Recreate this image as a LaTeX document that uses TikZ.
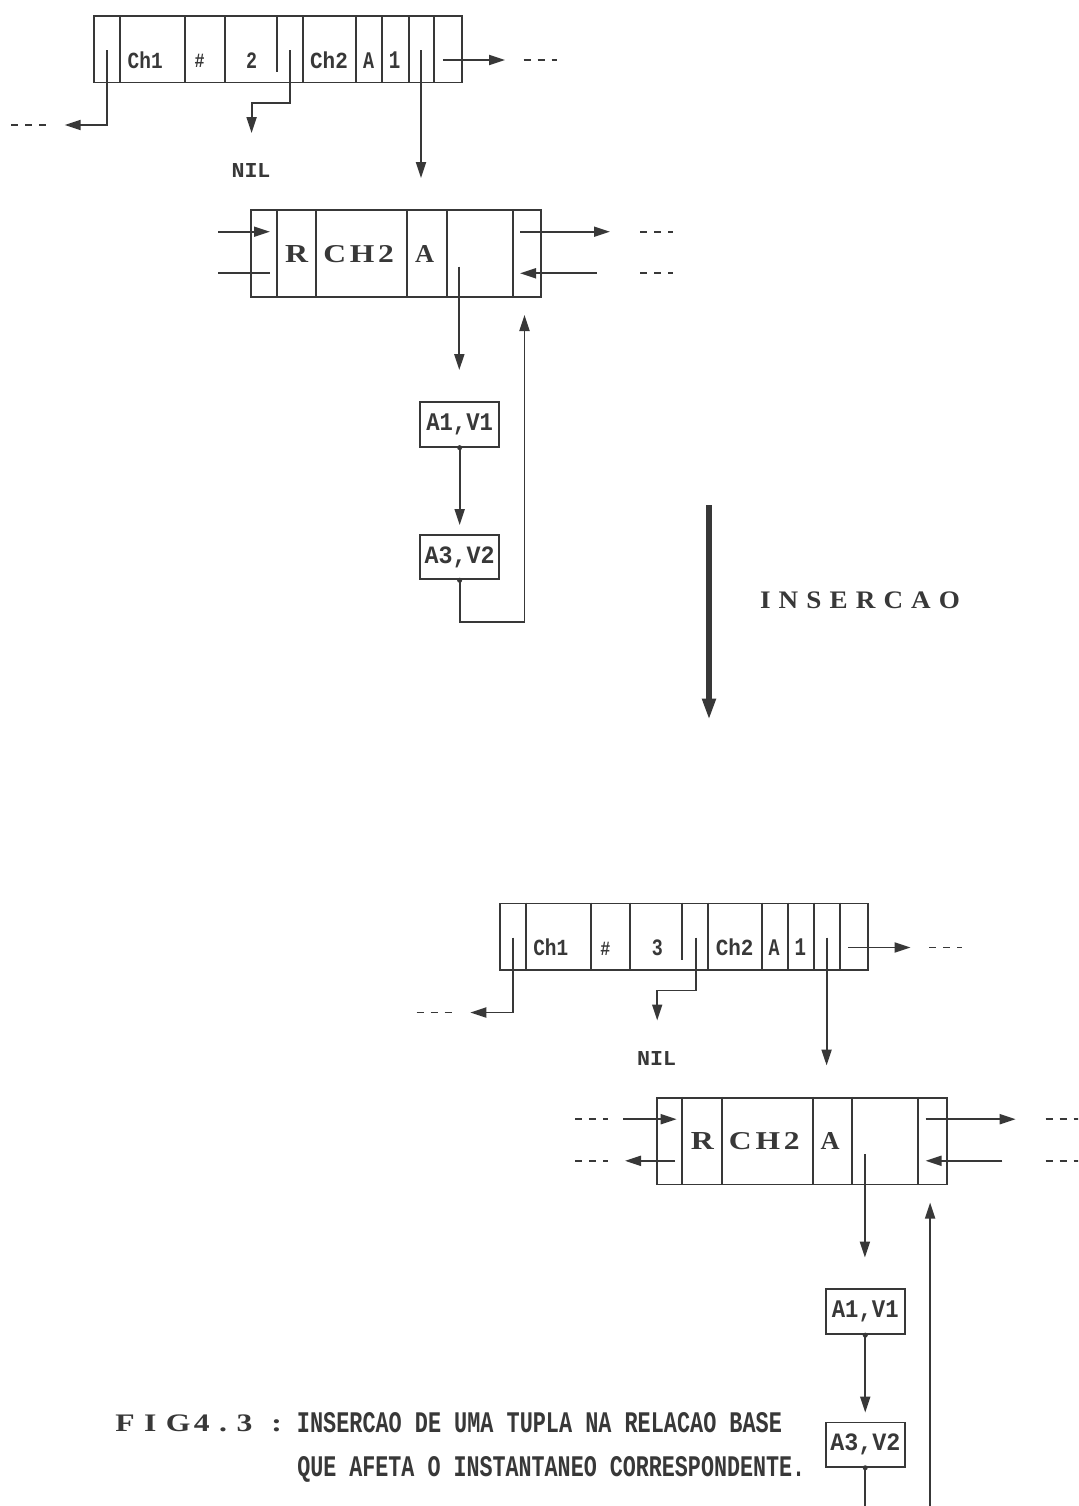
\documentclass[tikz,border=0pt]{standalone}
\usepackage{fontspec}
\usepackage{graphicx}
\usetikzlibrary{arrows.meta}
\setmainfont{Liberation Serif}
\newfontfamily\monof{Liberation Mono}
\newfontfamily\widef{Liberation Serif}
\definecolor{ink}{HTML}{383838}
\newdimen\pu \pu=0.75pt
\newcommand\fbx[3]{\resizebox{#1\pu}{#2\pu}{#3}}
\newcommand\gp{\hspace{0.3em}}
\tikzset{
  ln/.style={draw=ink, line width=1.45pt},
  arr/.style={draw=ink, line width=1.45pt, -{Triangle[length=12pt,width=7.5pt]}},
  cont/.style={draw=ink, line width=1.45pt, dash pattern=on 5.25pt off 5.25pt},
  rec/.style={draw=ink, line width=1.45pt, inner sep=0pt, anchor=north west},
  vbox/.style={draw=ink, line width=1.45pt, inner sep=0pt, minimum width=79.3\pu, text=ink},
  txt/.style={inner sep=0pt, anchor=base, text=ink},
  txtw/.style={inner sep=0pt, anchor=base west, text=ink},
}
\newcommand\drawgroup[2]{%
  % first record
  \node[rec, minimum width=368.1\pu, minimum height=66.5\pu] (#1ra) at (93.2,15) {};
  \foreach \xx in {120.2,185,224.6,302.6,356.3,382.2,408.8,434}{\draw[ln] (\xx,15) -- (\xx,81.5);}
  \draw[ln] (276.7,15) -- (276.7,72);
  \node[txt] (#1tch1) at (145.2,68.3) {\fbx{35}{16.7}{\monof\bfseries Ch1}};
  \node[txt] (#1thash) at (199.7,67.7) {\fbx{10}{13.3}{\monof\bfseries \#}};
  \node[txt] (#1tnum) at (251.7,68.3) {\fbx{11}{15.7}{\monof\bfseries #2}};
  \node[txt] (#1tch2) at (329,68.3) {\fbx{37.7}{16.7}{\monof\bfseries Ch2}};
  \node[txt] (#1ta) at (368.5,68.3) {\fbx{11}{15.7}{\monof\bfseries A}};
  \node[txt] (#1tone) at (394.7,68.3) {\fbx{11.5}{16.7}{\monof\bfseries 1}};
  % pointers of first record
  \coordinate (#1p1) at (107.3,50); \coordinate (#1p1e) at (64.7,125);
  \draw[arr] (#1p1) |- (#1p1e);
  \coordinate (#1c1a) at (11,125); \coordinate (#1c1b) at (46,125);
  \draw[cont] (#1c1a) -- (#1c1b);
  \coordinate (#1p2) at (290.4,50); \coordinate (#1p2k) at (290.4,103); \coordinate (#1p2e) at (251.6,133);
  \draw[arr] (#1p2) -- (#1p2k) -| (#1p2e);
  \node[txt] (#1nil) at (251,177.5) {\fbx{39}{14}{\monof\bfseries NIL}};
  \coordinate (#1p3) at (421,50); \coordinate (#1p3e) at (421,178);
  \draw[arr] (#1p3) -- (#1p3e);
  \coordinate (#1p4) at (442.8,60); \coordinate (#1p4e) at (505,60);
  \draw[arr] (#1p4) -- (#1p4e);
  \coordinate (#1c2a) at (523.5,60); \coordinate (#1c2b) at (556.8,60);
  \draw[cont] (#1c2a) -- (#1c2b);
  % second record
  \node[rec, minimum width=290\pu, minimum height=86.7\pu] (#1rb) at (250,209.3) {};
  \foreach \xx in {276.7,316,407.3,446.7,512.7}{\draw[ln] (\xx,209.3) -- (\xx,296);}
  \node[txt] (#1tr) at (296.7,262) {\fbx{23}{17}{\widef\bfseries R}};
  \node[txt] (#1tch) at (358.7,262) {\fbx{70.7}{17}{\widef\bfseries C\hspace{0.12em}H\hspace{0.12em}2}};
  \node[txt] (#1tra) at (424.5,262) {\fbx{19}{17}{\widef\bfseries A}};
  \coordinate (#1q1) at (520,231.7); \coordinate (#1q1e) at (610,231.7);
  \draw[arr] (#1q1) -- (#1q1e);
  \coordinate (#1c3a) at (640,231.7); \coordinate (#1c3b) at (673,231.7);
  \draw[cont] (#1c3a) -- (#1c3b);
  \coordinate (#1q2) at (596.7,273.3); \coordinate (#1q2e) at (520,273.3);
  \draw[arr] (#1q2) -- (#1q2e);
  \coordinate (#1c4a) at (640,273.3); \coordinate (#1c4b) at (673,273.3);
  \draw[cont] (#1c4a) -- (#1c4b);
  % attribute list
  \coordinate (#1dp) at (459.3,266.7); \coordinate (#1dpt) at (459.3,370);
  \draw[arr] (#1dp) -- (#1dpt);
  \node[vbox, minimum height=45\pu] (#1va) at (459.65,424.2) {\fbx{66.7}{16.7}{\monof\bfseries A1,V1}};
  \node[vbox, minimum height=44.3\pu] (#1vb) at (459.65,557.15) {\fbx{70}{16.7}{\monof\bfseries A3,V2}};
  \coordinate (#1vbt) at (459.65,525);
  \draw[arr] (#1va.south) -- (#1vbt);
  \fill[ink] (#1va.south) circle (1.9pt);
  \coordinate (#1lp) at (459.65,621.7); \coordinate (#1upt) at (524.5,315);
  \draw[arr] (#1vb.south) -- (#1lp) -| (#1upt);
  \fill[ink] (#1vb.south) circle (1.9pt);
}
\begin{document}
\begin{tikzpicture}[x=0.75pt,y=-0.75pt]
\useasboundingbox (0,0) rectangle (1078,1506);
\fill[white] (0,0) rectangle (1078,1506);
\clip (0,0) rectangle (1078,1506);
% upper state
\drawgroup{T}{2}
\coordinate (Tla) at (218.3,231.7); \coordinate (Tlb) at (270,231.7);
\draw[arr] (Tla) -- (Tlb);
\coordinate (Tlc) at (218.3,273.3); \coordinate (Tld) at (270,273.3);
\draw[ln] (Tlc) -- (Tld);
% lower state
\begin{scope}[shift={(405.6,887.5)}]
\drawgroup{B}{3}
\coordinate (Bla) at (217.7,231.7); \coordinate (Blb) at (271,231.7);
\draw[arr] (Bla) -- (Blb);
\coordinate (Bca) at (169.4,231.7); \coordinate (Bcb) at (202.7,231.7);
\draw[cont] (Bca) -- (Bcb);
\coordinate (Blc) at (269.4,273.3); \coordinate (Bld) at (219.4,273.3);
\draw[arr] (Blc) -- (Bld);
\coordinate (Bcc) at (169.4,273.3); \coordinate (Bcd) at (202.7,273.3);
\draw[cont] (Bcc) -- (Bcd);
\end{scope}
% transition
\coordinate (ia) at (709,505); \coordinate (ib) at (709,720);
\draw[draw=ink, line width=4.5pt, -{Triangle[length=16pt,width=9.5pt]}] (ia) -- (ib);
\node[txt] (ins) at (860,608.3) {\fbx{200}{16.7}{\widef\bfseries I\gp N\gp S\gp E\gp R\gp C\gp A\gp O}};
% caption
\node[txtw] (fig) at (115,1431.5) {\fbx{166.7}{16.7}{\widef\bfseries F\gp I\gp G\hspace{0.1em}4\gp .\gp 3\gp\gp :}};
\node[txtw] (cap1) at (296.7,1432.5) {\fbx{485}{20}{\monof\bfseries INSERCAO DE UMA TUPLA NA RELACAO BASE}};
\node[txtw] (cap2) at (297,1476.5) {\fbx{508}{20}{\monof\bfseries QUE AFETA O INSTANTANEO CORRESPONDENTE.}};
\end{tikzpicture}
\end{document}
